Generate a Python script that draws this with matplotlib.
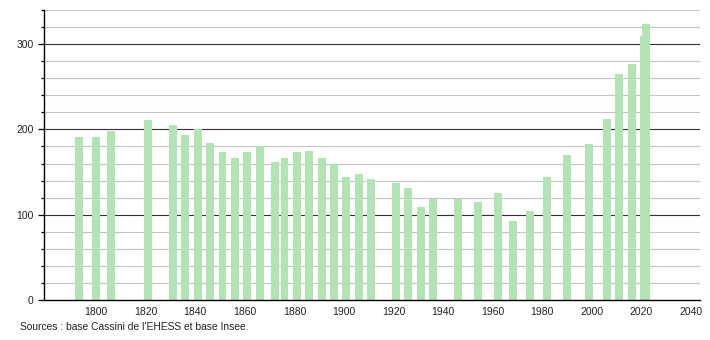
import matplotlib
matplotlib.use("Agg")
import matplotlib.pyplot as plt
from matplotlib.ticker import MultipleLocator

years = [1793, 1800, 1806, 1821, 1831, 1836, 1841, 1846, 1851, 1856,
         1861, 1866, 1872, 1876, 1881, 1886, 1891, 1896, 1901, 1906,
         1911, 1921, 1926, 1931, 1936, 1946, 1954, 1962, 1968, 1975,
         1982, 1990, 1999, 2006, 2011, 2016, 2021, 2022]
population = [191, 191, 198, 211, 205, 194, 200, 184, 174, 167,
              173, 180, 162, 167, 174, 175, 166, 160, 144, 148,
              142, 137, 131, 109, 119, 119, 115, 126, 93, 104,
              144, 170, 183, 212, 265, 277, 309, 324]
xticks = [1800, 1820, 1840, 1860, 1880, 1900, 1920, 1940, 1960, 1980, 2000, 2020, 2040]
source_text = "Sources : base Cassini de l'EHESS et base Insee."

plt.rcParams['font.family'] = ['Liberation Sans', 'DejaVu Sans']

fig = plt.figure(figsize=(7.1, 3.4), dpi=100)
ax = fig.add_axes([44/710, 40/340, 656/710, 290/340])

# grid
for v in range(20, 341, 20):
    if v % 100 == 0:
        ax.axhline(v, color='#333333', lw=0.8, zorder=1)
    else:
        ax.axhline(v, color='#c4c4c4', lw=0.8, zorder=1)

ax.bar(years, population, width=3.2, color='#b2e3b2', zorder=2)

ax.set_xlim(1779, 2043.6)
ax.set_ylim(0, 340)
ax.set_xticks(xticks)
ax.set_yticks([0, 100, 200, 300])
ax.yaxis.set_minor_locator(MultipleLocator(20))
ax.tick_params(axis='x', length=0, labelsize=7.5, pad=5)
ax.tick_params(axis='y', which='major', length=4, width=0.9, labelsize=7.5)
ax.tick_params(axis='y', which='minor', length=2.5, width=0.9)
for lbl in ax.get_yticklabels() + ax.get_xticklabels():
    lbl.set_color('#222222')

ax.spines['top'].set_visible(False)
ax.spines['right'].set_visible(False)
ax.spines['left'].set_linewidth(1.0)
ax.spines['bottom'].set_linewidth(1.0)

fig.text(20/710, 1 - 327/340, source_text, fontsize=7.4, va='center', ha='left', color='#222222')

fig.savefig('out.png', dpi=100)
